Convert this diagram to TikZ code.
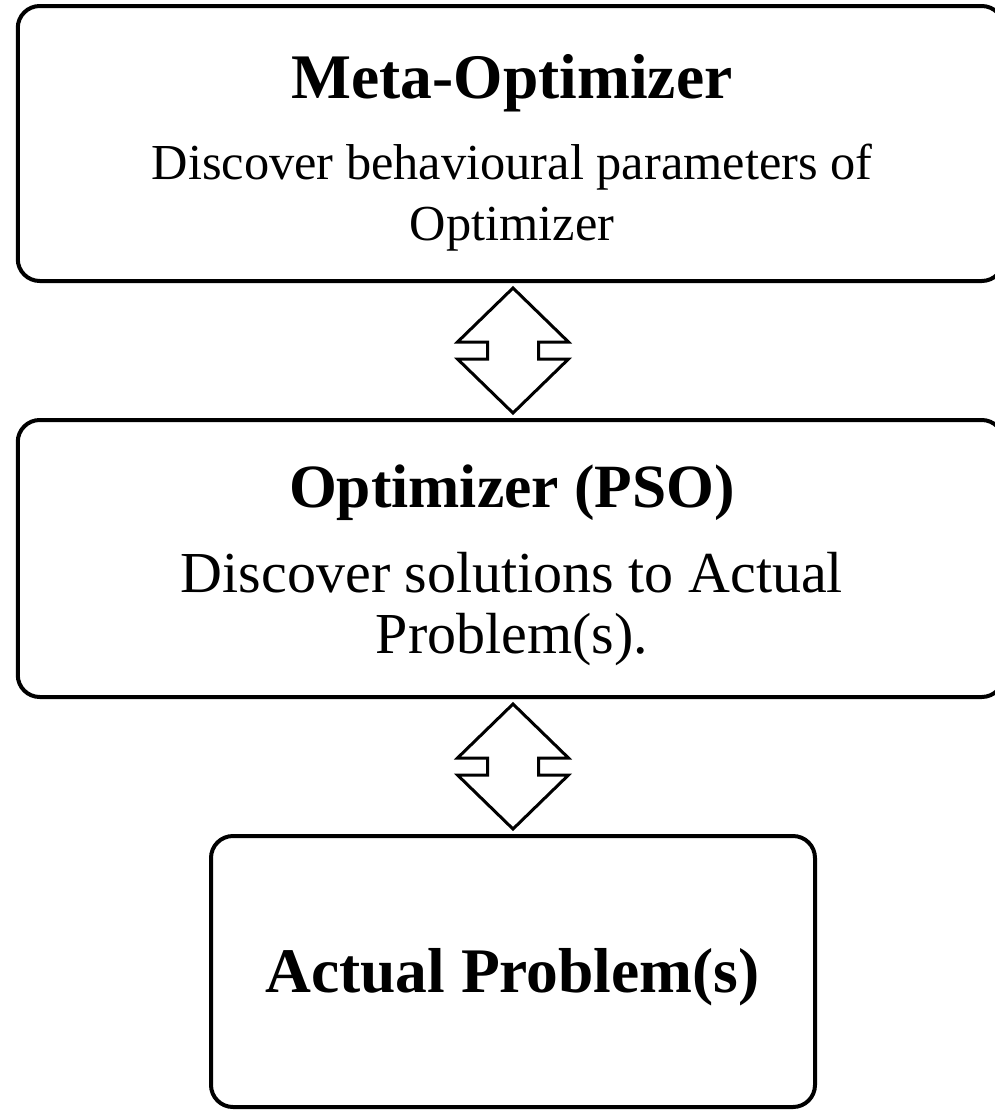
\documentclass[tikz,border=0pt]{standalone}
\usepackage{fontspec}
\setmainfont{Liberation Serif}
\usetikzlibrary{calc}

\tikzset{
  box/.style={draw=black, line width=4pt, rounded corners=22pt, fill=white,
              inner sep=0pt},
  title/.style={anchor=base, inner sep=0pt, font=\bfseries},
  body/.style={anchor=base, inner sep=0pt},
  blockarrow/.style={draw=black, line width=3pt, fill=white, line join=miter}
}

\begin{document}
\begin{tikzpicture}[x=1pt, y=-1pt]
  \useasboundingbox (0,0) rectangle (994,1111);

  % three stages
  \node[box, minimum width=986pt, minimum height=275pt] (meta) at (510.75,143.5) {};
  \node[box, minimum width=986pt, minimum height=277pt] (opt)  at (510.75,558.5) {};
  \node[box, minimum width=604pt, minimum height=271pt] (act)  at (513,971.5) {};

  % labels of the meta-optimizer
  \node[title, font=\bfseries\fontsize{63.5}{63.5}\selectfont] (metat) at (512,98) {Meta-Optimizer};
  \node[body, font=\fontsize{50.4}{50.4}\selectfont] (metab1) at (512,179) {Discover behavioural parameters of};
  \node[body, font=\fontsize{50.4}{50.4}\selectfont] (metab2) at (512,240) {Optimizer};

  % labels of the optimizer
  \node[title, font=\bfseries\fontsize{61.5}{61.5}\selectfont] (optt) at (512,507) {Optimizer (PSO)};
  \node[body, font=\fontsize{58}{58}\selectfont] (optb1) at (512,592) {Discover solutions to Actual};
  \node[body, font=\fontsize{58}{58}\selectfont] (optb2) at (512,653) {Problem(s).};

  % label of the actual problem
  \node[title, font=\bfseries\fontsize{63.5}{63.5}\selectfont] (actt) at (512.5,992) {Actual Problem(s)};

  % two-way block arrows between the stages
  \coordinate (m1) at ($(meta.south)!0.5!(opt.north)$);
  \coordinate (m2) at ($(opt.south)!0.5!(act.north)$);
  \coordinate (a1) at (m1 -| act.center);
  \coordinate (a2) at (m2 -| act.center);
  \foreach \c in {a1,a2}{
    \draw[blockarrow, shift={(\c)}]
      (0,-62.5) -- (55.5,-8.5) -- (25.5,-8.5) -- (25.5,8.5) -- (55.5,8.5)
      -- (0,62.5) -- (-55.5,8.5) -- (-25.5,8.5) -- (-25.5,-8.5) -- (-55.5,-8.5)
      -- cycle;
  }
\end{tikzpicture}
\end{document}
